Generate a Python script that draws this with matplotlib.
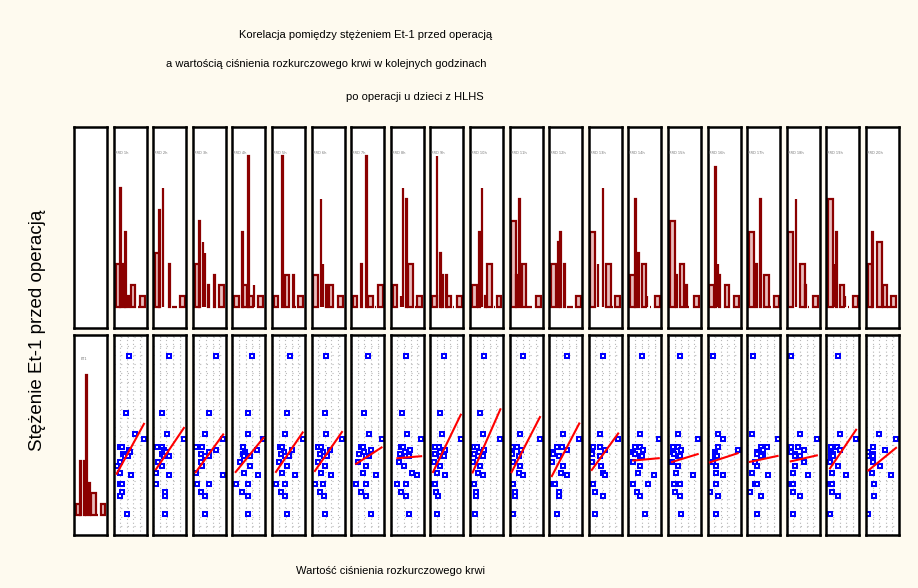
import numpy as np
import matplotlib.pyplot as plt

nan = np.nan

# Et-1 before surgery (same for every scatter panel)
et1 = [89.5, 61, 50.5, 48, 44, 44, 42.5, 41.5, 40.5, 39.5, 39.5, 36.5, 34.5, 31, 30, 25.5, 25.5, 21.5, 19.5, 10.5]

# diastolic pressure in following hours (panel scale 0-100)
rr_h1 = [47.6, 36.7, 64, 92, 19.4, 25.5, 47.6, 49.7, 27.6, 34.5, 44.5, 19.4, 9.4, 20.3, 53.6, 19.4, 26.4, 26.4, 19.4, 41.5]
rr_h2 = [48.8, 25.8, 42.7, 93, 12.4, 25.8, 33, 39, 25.8, 33, 48.8, 15.5, 25.8, 8.5, 48.8, 8.5, 8.5, 35.8, 35.8, 35.8]
rr_h3 = [70, 48, 36, 92, 9, 27, 70, 49, 25, 49, 37, 25, 27, 9, 92, 14, 49, 26, 37, 36]
rr_h4 = [59, 47, 47, 94, 31, 31, 74, 38, 31, 35, 53, 23, 53, 36, 77, 10, 48, 30, 48, 48]
rr_h5 = [55, 45, 40, 93, 25, 30, 60, 35, 28, 40, 50, 20, 45, 30, 70, 12, 40, 28, 40, 45]
rr_h6 = [45, 42, 45, 92, 20, 28, 55, 35, 25, 38, 48, 18, 40, 28, 60, 10, 35, 25, 38, 40]
rr_h7 = [50, 40, 55, 92, 30, 35, 60, 40, 25, 45, 55, 20, 45, 35, 75, 15, 45, 30, 45, 60]
rr_h8 = [45, 35, 50, 92, 30, 38, 58, 42, 28, 45, 55, 25, 40, 65, 80, 20, 45, 30, 45, 55]
rr_h9 = [40, 30, 35, 92, 15, 25, 45, 30, 15, 28, 40, 12, 30, 20, 45, 8, 15, 18, 22, 20]
rr_h10 = [42, 30, 38, 92, 12, 22, 42, 28, 12, 25, 38, 10, 30, 25, 40, 8, 12, 18, 18, 15]
rr_h11 = [42, nan, 31, 92, 6, 21, 34, 8, 8, 29, 29, 11, 31, 29, 42, 11, 11, 17, 17, 11]
rr_h12 = [53, nan, 41, 91, 23, 40, 53, 12, 12, 31, 31, 8, 41, 36, 53, 12, 17, 31, 31, 24]
rr_h13 = [42, nan, 34, 89, 14, 34, 49, 9, 9, 34, 34, 9, 36, 42, 49, 14, 14, 19, 42, 19]
rr_h14 = [40, nan, 35, 92, 20, 35, 45, 15, 20, 35, 40, 15, 35, 30, 78, 15, 60, 25, 35, 50]
rr_h15 = [35, nan, 30, 90, 15, 30, 40, 15, 18, 30, 35, 12, 30, 25, 75, 35, 18, 20, 35, 40]
rr_h16 = [17, nan, 31, 48, 31, 31, 91, 22, 22, 22, 29, 17, 25, 25, 48, 25, 25, 7, 31, 25]
rr_h17 = [18, nan, 14, 92, 42, 59, 49, 31, 31, 49, 42, 24, 31, 14, 64, 24, 31, 8, 42, 31]
rr_h18 = [12, nan, 40, 91, 12, 35, 53, 12, 25, 40, 25, 53, 25, 18, 63, 12, 18, 18, 40, 18]
rr_h19 = [36, nan, 41, 90, 14, 31, 41, 14, 21, 14, 21, 11, 36, 18, 58, 11, 18, 18, 36, 11]
rr_h20 = [nan, nan, 40, 91, 22, 22, 58, 7, 20, 20, 7, 22, 42, 19, 76, 24, 24, nan, 24, 7]

# histograms: (bin from, bin to, count)
hist_et1 = [(6, 18, 1), (18, 20, 5), (30, 32, 5), (36, 38, 13), (46, 48, 3), (51, 67, 2), (70, 72, 0), (81, 95, 1)]
hist_h1 = [(6, 19, 4), (19, 21, 11), (29, 35, 4), (35, 37, 7), (45, 47, 1), (53, 66, 2), (75, 77, 0), (81, 95, 1)]
hist_h2 = [(5, 18, 5), (18, 20, 9), (29, 31, 11), (38, 40, 0), (48, 50, 4), (56, 71, 0), (81, 96, 1)]
hist_h3 = [(6, 20, 4), (20, 22, 8), (30, 32, 6), (36, 38, 5), (47, 49, 2), (57, 59, 0), (64, 66, 3), (80, 94, 2)]
hist_h4 = [(5, 20, 1), (30, 32, 7), (33, 45, 2), (48, 50, 14), (51, 63, 1), (64, 66, 2), (78, 94, 1)]
hist_h5 = [(5, 18, 1), (30, 32, 14), (38, 51, 3), (57, 59, 0), (64, 66, 3), (70, 72, 0), (80, 95, 1)]
hist_h6 = [(5, 18, 3), (27, 29, 10), (34, 36, 4), (45, 47, 2), (52, 65, 2), (70, 72, 0), (80, 95, 1)]
hist_h7 = [(5, 18, 1), (30, 32, 4), (45, 47, 14), (52, 65, 1), (72, 74, 0), (80, 95, 2)]
hist_h8 = [(6, 20, 2), (30, 32, 1), (36, 38, 11), (47, 49, 10), (53, 66, 4), (73, 75, 0), (80, 94, 1)]
hist_h9 = [(6, 19, 1), (19, 21, 14), (29, 31, 5), (36, 38, 3), (47, 49, 3), (49, 62, 1), (69, 71, 0), (81, 96, 1)]
hist_h10 = [(6, 20, 2), (22, 24, 0), (28, 30, 7), (35, 37, 11), (46, 48, 1), (52, 67, 4), (73, 75, 0), (81, 95, 1)]
hist_h11 = [(4, 19, 8), (19, 21, 3), (29, 31, 10), (37, 50, 4), (52, 67, 0), (80, 95, 1)]
hist_h12 = [(5, 20, 4), (27, 29, 6), (34, 36, 7), (45, 47, 4), (53, 73, 0), (81, 96, 1)]
hist_h13 = [(5, 20, 7), (27, 29, 4), (42, 44, 11), (52, 66, 4), (70, 72, 0), (80, 95, 1)]
hist_h14 = [(5, 20, 3), (20, 22, 10), (30, 32, 5), (40, 53, 4), (55, 57, 1), (65, 67, 0), (80, 95, 1)]
hist_h15 = [(5, 20, 8), (24, 26, 3), (35, 49, 4), (55, 57, 2), (62, 64, 0), (80, 95, 1)]
hist_h16 = [(5, 18, 2), (22, 24, 13), (30, 32, 4), (36, 38, 3), (52, 65, 2), (70, 72, 0), (80, 95, 1)]
hist_h17 = [(5, 20, 7), (27, 29, 4), (40, 42, 10), (52, 66, 3), (70, 72, 0), (80, 95, 1)]
hist_h18 = [(5, 20, 7), (27, 29, 10), (40, 54, 4), (55, 57, 2), (65, 67, 0), (80, 95, 1)]
hist_h19 = [(5, 20, 10), (22, 24, 4), (30, 32, 7), (40, 53, 2), (55, 57, 1), (65, 67, 0), (80, 95, 1)]
hist_h20 = [(6, 18, 4), (18, 20, 7), (34, 48, 6), (50, 65, 2), (65, 73, 0), (75, 91, 1)]

labels = ['RRD %dh' % (i + 1) for i in range(20)]

hours = [rr_h1, rr_h2, rr_h3, rr_h4, rr_h5, rr_h6, rr_h7, rr_h8, rr_h9, rr_h10,
         rr_h11, rr_h12, rr_h13, rr_h14, rr_h15, rr_h16, rr_h17, rr_h18, rr_h19, rr_h20]
hists = [hist_h1, hist_h2, hist_h3, hist_h4, hist_h5, hist_h6, hist_h7, hist_h8, hist_h9, hist_h10,
         hist_h11, hist_h12, hist_h13, hist_h14, hist_h15, hist_h16, hist_h17, hist_h18, hist_h19, hist_h20]

BG = '#FEFAEF'
DARKRED = '#8B0000'
PINK = '#E9BDBD'
W, H = 918, 588

fig = plt.figure(figsize=(W / 100, H / 100), dpi=100, facecolor=BG)
txtfont = ['Liberation Sans Narrow', 'Liberation Sans', 'DejaVu Sans']


def panel(col, row):
    left = 74 + 39.6 * col
    if row == 0:
        top, bot = 127, 328
    else:
        top, bot = 335, 535
    ax = fig.add_axes([left / W, 1 - bot / H, 33 / W, (bot - top) / H])
    ax.set_xticks([])
    ax.set_yticks([])
    for s in ax.spines.values():
        s.set_linewidth(1.8)
        s.set_color('black')
    return ax


def draw_hist(ax, bars, label):
    for lo, hi, n in bars:
        ax.bar(lo, n, width=hi - lo, align='edge', facecolor=PINK,
               edgecolor=DARKRED, linewidth=1.6)
    ax.set_xlim(0, 100)
    ax.set_ylim(-1.95, 16.7)
    ax.text(3, 14.3, label, fontsize=2.6, color='#777777', ha='left', va='center')


# top-left empty cell
panel(0, 0)

# top row: histograms of each hour
for k in range(20):
    ax = panel(k + 1, 0)
    draw_hist(ax, hists[k], labels[k])

# bottom-left: histogram of Et-1
ax = panel(0, 1)
for lo, hi, n in hist_et1:
    ax.bar(lo, n, width=hi - lo, align='edge', facecolor=PINK,
           edgecolor=DARKRED, linewidth=1.6)
ax.set_xlim(0, 100)
ax.set_ylim(-1.85, 16.7)
ax.text(20, 14.5, 'ET1', fontsize=2.6, color='#777777', ha='left', va='center')

# bottom row: scatter plots with regression lines
y = np.array(et1)
for k in range(20):
    ax = panel(k + 1, 1)
    x = np.array(hours[k], dtype=float)
    for gx in [20, 40, 60, 80]:
        ax.axvline(gx, color='#B8B8B8', lw=0.8, ls=(0, (1, 2.5)), zorder=0)
    for gy in np.arange(4.5, 100, 4.5):
        ax.axhline(gy, color='#B8B8B8', lw=0.8, ls=(0, (1, 5)), zorder=0)
    ax.plot(x, y, 's', ms=3.5, mfc='white', mec='#0000FF', mew=1.45, zorder=2)
    ok = ~np.isnan(x)
    a, b = np.polyfit(x[ok], y[ok], 1)
    xs = np.array([x[ok].min(), x[ok].max()])
    ax.plot(xs, a * xs + b, color='red', lw=1.5, zorder=3)
    ax.set_xlim(0, 100)
    ax.set_ylim(0, 100)

fig.text(366 / W, 1 - 35 / H, 'Korelacja pomiędzy stężeniem Et-1 przed operacją',
         ha='center', va='center', fontsize=8, family=txtfont)
fig.text(326 / W, 1 - 64 / H, 'a wartością ciśnienia rozkurczowego krwi w kolejnych godzinach',
         ha='center', va='center', fontsize=8, family=txtfont)
fig.text(415 / W, 1 - 97 / H, 'po operacji u dzieci z HLHS',
         ha='center', va='center', fontsize=8, family=txtfont)
fig.text(390 / W, 1 - 571 / H, 'Wartość ciśnienia rozkurczowego krwi',
         ha='center', va='center', fontsize=8, family=txtfont)
fig.text(38 / W, 1 - 330 / H, 'Stężenie Et-1 przed operacją', rotation=90,
         ha='center', va='center', fontsize=13.5, family=['Liberation Sans', 'DejaVu Sans'])

fig.savefig('out.png', dpi=100, facecolor=BG)
